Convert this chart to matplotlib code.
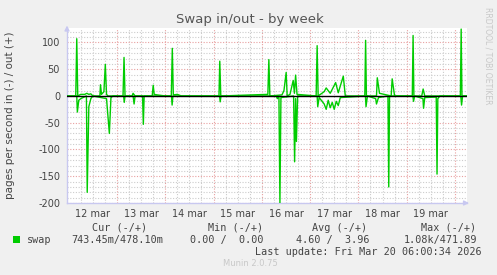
import numpy as np
import matplotlib
matplotlib.use('Agg')
from matplotlib import pyplot as plt

# hours since 12 mar 00:00
out_t = [-1, 3.5, 4.0, 4.5, 6, 8, 9, 10, 11, 12, 15.5, 15.8, 16.3, 17.5, 18.2, 18.8, 19.5,
         27, 27.5, 28, 31.5, 32, 33, 41.5, 42, 42.5, 44, 48, 51, 51.5, 52, 54, 56,
         74.7, 75.1, 75.6, 99, 99.5, 100, 106, 107, 108.1, 108.6, 110, 111.6, 112.2, 112.8, 113.5,
         123, 123.5, 124, 127, 128, 130, 132.7, 134, 136.5, 137.5,
         147.2, 147.6, 148, 153, 153.4, 154.5, 160.3, 160.8, 162,
         170.8, 171.2, 171.6, 175.5, 176.2, 177, 194.7, 195.1, 195.5, 198]
out_v = [0, 0, 107, 0, 3, 3, 5, 3, 4, 0, 0, 21, 3, 8, 59, 3, 0,
         0, 72, 0, 0, 5, 0, 0, 20, 3, 2, 0, 0, 89, 2, 3, 0,
         0, 65, 0, 3, 68, 0, 2, 10, 44, 0, 3, 29, 5, 39, 3,
         0, 94, 0, 8, 15, 5, 25, 6, 37, 0,
         0, 104, 0, 0, 34, 5, 0, 32, 0,
         0, 113, 0, 0, 13, 0, 0, 125, 0, 0]

in_t = [-1, 4.0, 4.3, 5, 6, 8.8, 9.2, 10, 11, 12, 18.8, 20.2, 21, 22, 27.3, 27.6, 28,
        32, 32.5, 33, 36.7, 37.1, 37.5, 51.1, 51.4, 51.8, 75, 75.3, 75.7,
        103.2, 103.7, 104.5, 105, 105.5, 111.8, 112.3, 112.8, 113.2, 113.8,
        123.5, 123.8, 124.5, 127, 128, 129, 130, 131, 132, 133, 134, 135,
        147.5, 147.8, 148.5, 152.6, 153, 154, 158.7, 159.1, 159.5,
        171.1, 171.4, 172, 176.1, 176.4, 177, 182.7, 183.1, 183.5, 184.5,
        194.9, 195.3, 195.8, 198]
in_v = [0, 0, -30, -8, -5, 0, -180, -20, -5, 0, -5, -70, -3, 0, 0, -12, 0,
        0, -15, 0, 0, -53, 0, 0, -17, 0, 0, -11, 0,
        0, -5, 0, -200, -3, 0, -123, -5, -85, 0,
        0, -20, -3, -15, -25, -8, -22, -12, -25, -10, -18, -3,
        0, -20, 0, -5, -15, -3, 0, -170, 0,
        0, -10, 0, -5, -23, -3, -2, -146, -5, 0,
        0, -17, 0, 0]

days = ['12 mar', '13 mar', '14 mar', '15 mar', '16 mar', '17 mar', '18 mar', '19 mar']
yticks = [-200, -150, -100, -50, 0, 50, 100]

W, H = 497, 275
fig = plt.figure(figsize=(W / 100, H / 100), dpi=100)
fig.patch.set_facecolor('#f0f0f0')

def fx(x):
    return x / W

def fy(y):
    return 1 - y / H

x0, x1, ytop, ybot = 67, 467, 28, 203
ax = fig.add_axes([fx(x0), fy(ybot), fx(x1) - fx(x0), fy(ytop) - fy(ybot)])
ax.set_facecolor('white')
ax.set_xlim(-0.85, 198)
ax.set_ylim(-200, 127)

# rejilla: roja cada dia / 50, gris cada 6h / 10
for h in np.arange(6, 198, 6):
    if h % 24 == 0:
        ax.axvline(h, color='#e8a0a0', lw=0.8, ls=(0, (1, 1.5)), zorder=1)
    else:
        ax.axvline(h, color='#cccccc', lw=0.8, ls=(0, (1, 1.5)), zorder=1)
for v in range(-200, 130, 10):
    if v % 50 == 0:
        ax.axhline(v, color='#e8a0a0', lw=0.8, ls=(0, (1, 1.5)), zorder=1)
    else:
        ax.axhline(v, color='#cccccc', lw=0.8, ls=(0, (1, 1.5)), zorder=1)

ax.plot(out_t, out_v, color='#00cc00', lw=1, zorder=3)
ax.plot(in_t, in_v, color='#00cc00', lw=1, zorder=3)
ax.axhline(0, color='black', lw=1, zorder=4)

for s in ['top', 'right']:
    ax.spines[s].set_visible(False)
for s in ['left', 'bottom']:
    ax.spines[s].set_color('#c8c8f0')
    ax.spines[s].set_linewidth(1)
ax.annotate('', xy=(0, 1.03), xytext=(0, 0.98), xycoords='axes fraction',
            arrowprops=dict(arrowstyle='-|>', color='#c8c8f0', lw=1, mutation_scale=7), annotation_clip=False)
ax.annotate('', xy=(1.012, 0), xytext=(0.99, 0), xycoords='axes fraction',
            arrowprops=dict(arrowstyle='-|>', color='#c8c8f0', lw=1, mutation_scale=7), annotation_clip=False)

ax.set_yticks(yticks)
ax.set_yticklabels([str(v) for v in yticks])
ax.set_xticks([12 + 24 * i for i in range(len(days))])
ax.set_xticklabels(days)
ax.tick_params(axis='both', length=0, labelsize=7, labelcolor='#444444', pad=4)
ax.tick_params(axis='y', pad=5)

fig.text(fx(250), fy(19), 'Swap in/out - by week', ha='center', va='center', fontsize=9.5, color='#555555')
fig.text(fx(10), fy(115), 'pages per second in (-) / out (+)', ha='center', va='center',
         rotation=90, fontsize=7.5, color='#444444')
fig.text(fx(488), fy(56), 'RRDTOOL / TOBI OETIKER', ha='center', va='center',
         rotation=-90, fontsize=5.5, color='#c8c8c8')

mono = dict(family='DejaVu Sans Mono', fontsize=7.3, color='#444444', va='center')
fig.text(fx(120), fy(228), 'Cur (-/+)', ha='center', **mono)
fig.text(fx(236), fy(228), 'Min (-/+)', ha='center', **mono)
fig.text(fx(340), fy(228), 'Avg (-/+)', ha='center', **mono)
fig.text(fx(449), fy(228), 'Max (-/+)', ha='center', **mono)

fig.patches.append(plt.Rectangle((fx(13), fy(243)), fx(7), 7 / H, transform=fig.transFigure,
                                 facecolor='#00cc00', edgecolor='none'))
fig.text(fx(27), fy(240), 'swap', ha='left', **mono)
fig.text(fx(163), fy(240), '743.45m/478.10m', ha='right', **mono)
fig.text(fx(263), fy(240), '0.00 /  0.00', ha='right', **mono)
fig.text(fx(370), fy(240), '4.60 /  3.96', ha='right', **mono)
fig.text(fx(477), fy(240), '1.08k/471.89', ha='right', **mono)
fig.text(fx(482), fy(252), 'Last update: Fri Mar 20 06:00:34 2026', ha='right', **mono)
fig.text(fx(250), fy(264), 'Munin 2.0.75', ha='center', va='center', fontsize=6, color='#c8c8c8')

fig.savefig('out.png', dpi=100, facecolor=fig.get_facecolor())
